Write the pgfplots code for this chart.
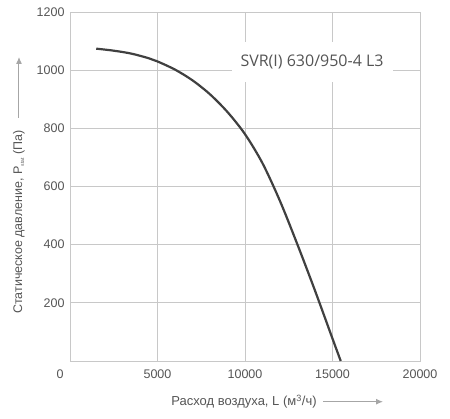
\documentclass[border=0pt]{standalone}
\usepackage{pgfplots}
\pgfplotsset{compat=1.18}
\usetikzlibrary{arrows.meta}
\usepackage{fontspec}
\setmainfont{Liberation Sans}
\newfontfamily\osans{Open Sans}
\definecolor{gridc}{HTML}{C8C8C8}
\definecolor{txt}{HTML}{555555}
\definecolor{curve}{HTML}{404040}
\definecolor{arr}{HTML}{A6A6A6}
\begin{document}
\begin{tikzpicture}
\path[use as bounding box] (-70pt,-57pt) rectangle (380pt,361pt);
\begin{axis}[
  at={(0,0)}, anchor=south west,
  scale only axis, width=350pt, height=349pt,
  xmin=0, xmax=20000, ymin=0, ymax=1200,
  xtick={5000,10000,15000,20000},
  extra x ticks={0},
  extra x tick style={grid=none, xticklabel style={xshift=-10pt}},
  ytick={200,400,600,800,1000,1200},
  scaled x ticks=false, scaled y ticks=false,
  grid=major,
  major grid style={gridc, line width=0.8pt},
  axis line style={gridc, line width=0.8pt},
  major tick length=0pt,
  /pgf/number format/assume math mode=true,
  /pgf/number format/1000 sep={},
  tick label style={font=\fontsize{12.5}{14}\selectfont, text=txt},
  xticklabel style={yshift=-5pt},
  yticklabel style={xshift=-2pt},
  clip=false,
]
\addplot[curve, line width=2.2pt, smooth, tension=0.5] coordinates {
  (1500,1074) (2500,1067) (3500,1057) (4500,1041) (5000,1030)
  (6000,1002) (7000,965) (8000,917) (9000,856) (10000,780)
  (11000,680) (12000,550) (13000,400) (14000,242) (15000,77) (15470,0)
};
\node[fill=white, inner xsep=9pt, minimum height=40pt, text=txt,
  font=\osans\fontsize{16}{18}\selectfont] at (axis cs:13830,1028) {SVR(I) 630/950-4 L3};
\end{axis}
\node[text=txt, font=\fontsize{13}{15}\selectfont] at (174pt,-40.7pt) {Расход воздуха, L (м\textsuperscript{3}/ч)};
\draw[arr, line width=1pt, -{Latex[length=7pt,width=6pt]}] (253pt,-40.7pt) -- (313pt,-40.7pt);
\node[text=txt, rotate=90, font=\fontsize{12.5}{14}\selectfont] at (-51pt,139pt) {Статическое давление, P\textsubscript{\fontsize{5}{6}\selectfont stat} (Па)};
\draw[arr, line width=1pt, -{Latex[length=7pt,width=6pt]}] (-51pt,243pt) -- (-51pt,304pt);
\end{tikzpicture}
\end{document}
